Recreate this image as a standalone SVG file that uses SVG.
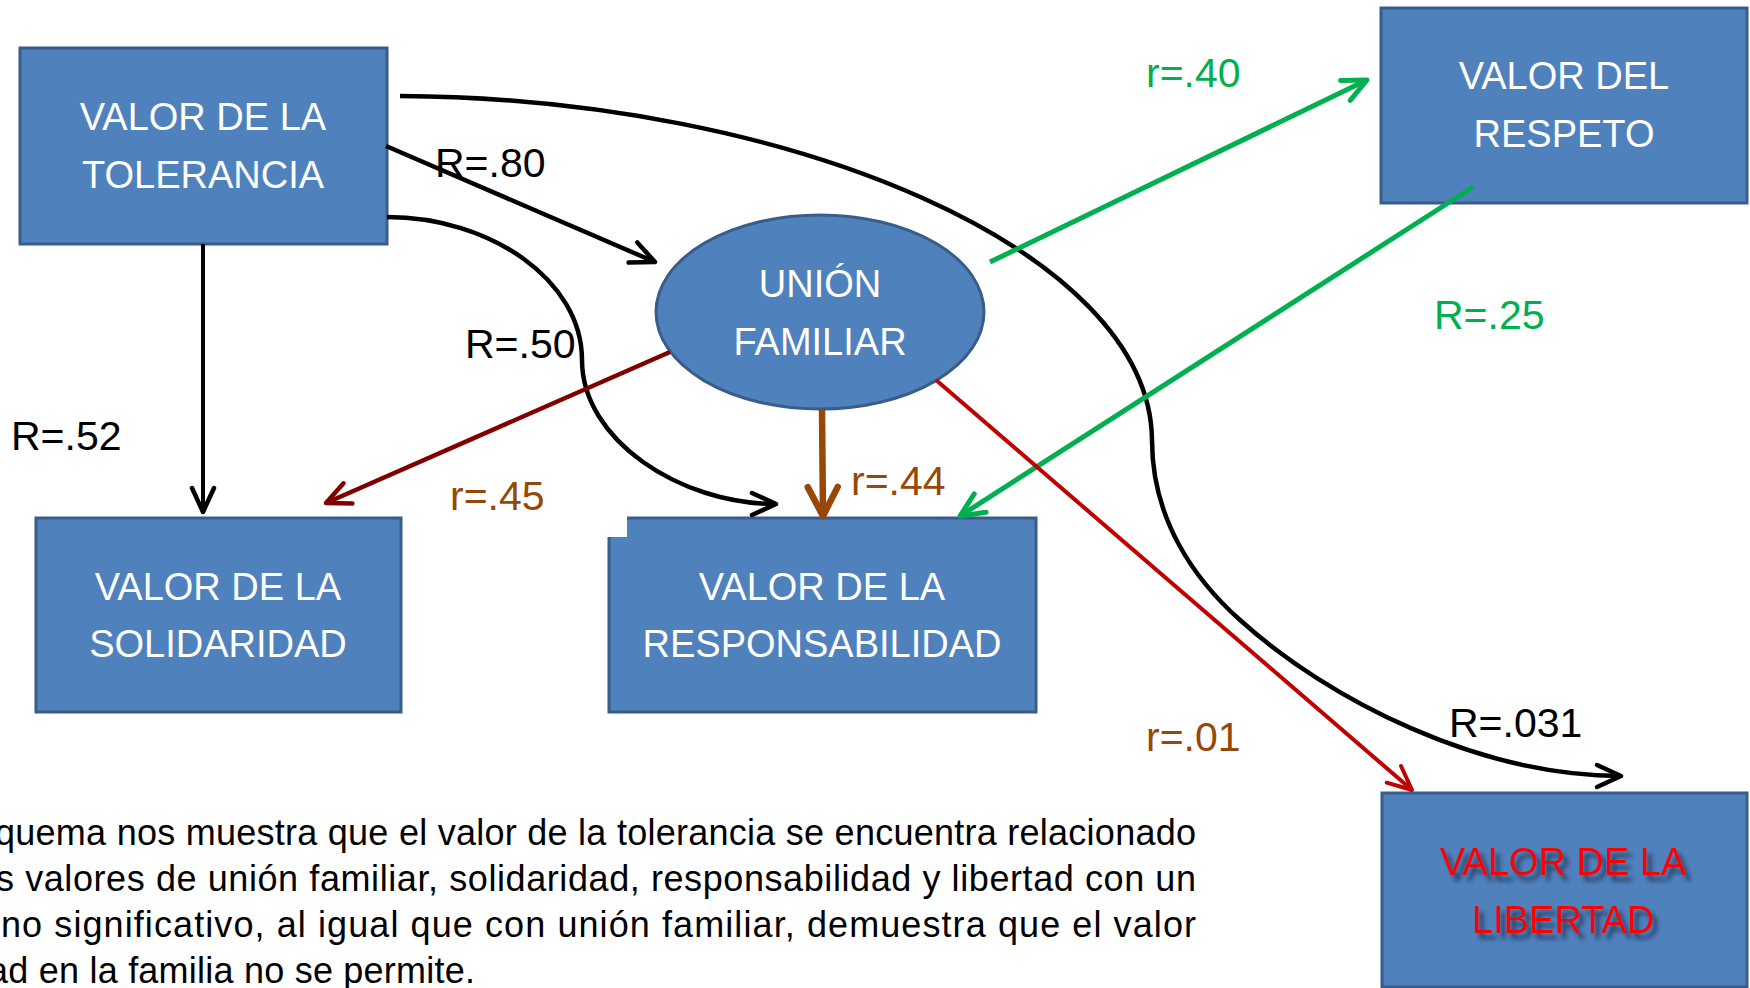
<svg xmlns="http://www.w3.org/2000/svg" width="1750" height="988" viewBox="0 0 1750 988">
<style>
.box{fill:#4f81bd;stroke:#385d8a;stroke-width:3}
.nt{font-family:"Liberation Sans",Arial,sans-serif;font-size:38px;fill:#ffffff;text-anchor:middle}
.lbl{font-family:"Liberation Sans",Arial,sans-serif;font-size:41px}
.para{font-family:"Liberation Sans",Arial,sans-serif;font-size:36px;fill:#000000}
.c{fill:none;stroke-linecap:butt}
</style>
<defs>
<marker id="aBlack" markerUnits="userSpaceOnUse" markerWidth="60" markerHeight="60" refX="0" refY="0" orient="auto" overflow="visible"><path d="M-24,-11 L0,0 L-24,11" fill="none" stroke="#000000" stroke-width="4.5" stroke-linecap="round" stroke-linejoin="round"/></marker>
<marker id="aDark" markerUnits="userSpaceOnUse" markerWidth="60" markerHeight="60" refX="0" refY="0" orient="auto" overflow="visible"><path d="M-24,-11 L0,0 L-24,11" fill="none" stroke="#800000" stroke-width="4.5" stroke-linecap="round" stroke-linejoin="round"/></marker>
<marker id="aBrown" markerUnits="userSpaceOnUse" markerWidth="60" markerHeight="60" refX="0" refY="0" orient="auto" overflow="visible"><path d="M-29,-15 L0,0 L-29,15" fill="none" stroke="#974706" stroke-width="6.5" stroke-linecap="round" stroke-linejoin="round"/></marker>
<marker id="aGreen" markerUnits="userSpaceOnUse" markerWidth="60" markerHeight="60" refX="0" refY="0" orient="auto" overflow="visible"><path d="M-24,-11 L0,0 L-24,11" fill="none" stroke="#00b050" stroke-width="5" stroke-linecap="round" stroke-linejoin="round"/></marker>
<marker id="aRed" markerUnits="userSpaceOnUse" markerWidth="60" markerHeight="60" refX="0" refY="0" orient="auto" overflow="visible"><path d="M-24,-11 L0,0 L-24,11" fill="none" stroke="#c00000" stroke-width="4" stroke-linecap="round" stroke-linejoin="round"/></marker>
<filter id="shadow" x="-10%" y="-30%" width="130%" height="180%"><feDropShadow dx="5" dy="6" stdDeviation="2" flood-color="#1a2a40" flood-opacity="0.75"/></filter>
</defs>
<rect x="0" y="0" width="1750" height="988" fill="#ffffff"/>

<g id="tolerancia">
<rect class="box" x="20" y="48" width="367" height="196"/>
<text class="nt" x="203" y="130">VALOR DE LA</text>
<text class="nt" x="203" y="188">TOLERANCIA</text>
</g>
<g id="respeto">
<rect class="box" x="1381" y="8" width="366" height="195"/>
<text class="nt" x="1564" y="89">VALOR DEL</text>
<text class="nt" x="1564" y="147">RESPETO</text>
</g>
<g id="union">
<ellipse class="box" cx="820" cy="312" rx="164" ry="97"/>
<text class="nt" x="820" y="297">UNIÓN</text>
<text class="nt" x="820" y="355">FAMILIAR</text>
</g>
<g id="solidaridad">
<rect class="box" x="36" y="518" width="365" height="194"/>
<text class="nt" x="218" y="600">VALOR DE LA</text>
<text class="nt" x="218" y="657">SOLIDARIDAD</text>
</g>
<g id="responsabilidad">
<rect class="box" x="609" y="518" width="427" height="194"/>
<rect x="605" y="514" width="22" height="23" fill="#ffffff"/>
<text class="nt" x="822" y="600">VALOR DE LA</text>
<text class="nt" x="822" y="657">RESPONSABILIDAD</text>
</g>
<g id="libertad">
<rect class="box" x="1382" y="793" width="365" height="194"/>
<g filter="url(#shadow)">
<text class="nt" x="1563" y="875" style="fill:#ff0000">VALOR DE LA</text>
<text class="nt" x="1563" y="933" style="fill:#ff0000">LIBERTAD</text>
</g>
</g>

<g id="connectors">
<path class="c" d="M386,146 L655,262" stroke="#000000" stroke-width="4.5" marker-end="url(#aBlack)"/>
<path class="c" d="M203,244 L203,512" stroke="#000000" stroke-width="4" marker-end="url(#aBlack)"/>
<path class="c" d="M387,217 C490,217 582,280 582,360 C582,440 680,504 776,504" stroke="#000000" stroke-width="4.5" marker-end="url(#aBlack)"/>
<path class="c" d="M400,96 C790,98 1150,250 1152,440 C1152,520 1195,580 1240,620 C1330,701 1480,776 1621,776" stroke="#000000" stroke-width="4.5" marker-end="url(#aBlack)"/>
<path class="c" d="M670,352 L326,503" stroke="#800000" stroke-width="4.5" marker-end="url(#aDark)"/>
<path class="c" d="M822,410 L823,516" stroke="#974706" stroke-width="6.5" marker-end="url(#aBrown)"/>
<path class="c" d="M990,262 L1367,80" stroke="#00b050" stroke-width="5" marker-end="url(#aGreen)"/>
<path class="c" d="M1473,187 L960,516" stroke="#00b050" stroke-width="5" marker-end="url(#aGreen)"/>
<path class="c" d="M936,380 L1412,790" stroke="#c00000" stroke-width="4" marker-end="url(#aRed)"/>
<text class="lbl" x="435" y="177" fill="#000000">R=.80</text>
<text class="lbl" x="11" y="450" fill="#000000">R=.52</text>
<text class="lbl" x="465" y="358" fill="#000000">R=.50</text>
<text class="lbl" x="1449" y="737" fill="#000000">R=.031</text>
<text class="lbl" x="450" y="510" fill="#974706">r=.45</text>
<text class="lbl" x="851" y="495" fill="#974706">r=.44</text>
<text class="lbl" x="1146" y="751" fill="#974706">r=.01</text>
<text class="lbl" x="1146" y="87" fill="#00b050">r=.40</text>
<text class="lbl" x="1434" y="329" fill="#00b050">R=.25</text>
</g>

<g id="paragraph">
<text class="para" x="-5" y="845" textLength="1201" lengthAdjust="spacing">quema nos muestra que el valor de la tolerancia se encuentra relacionado</text>
<text class="para" x="-4" y="891" textLength="1200" lengthAdjust="spacing">s valores de unión familiar, solidaridad, responsabilidad y libertad con un</text>
<text class="para" x="1" y="937" textLength="1195" lengthAdjust="spacing">no significativo, al igual que con unión familiar, demuestra que el valor</text>
<text class="para" x="-12" y="983" textLength="487" lengthAdjust="spacing">ad en la familia no se permite.</text>
</g>
</svg>
